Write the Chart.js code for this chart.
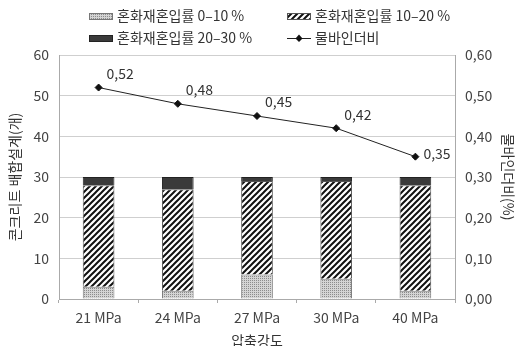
<!DOCTYPE html>
<html>
<head>
<meta charset="utf-8">
<script src="https://cdn.jsdelivr.net/npm/chart.js@4/dist/chart.umd.min.js"></script>
<style>
  body { margin: 0; background: #fff; }
  #wrap { position: relative; width: 519px; height: 346px; }
  .lg { position: absolute; font: 14px "Noto Sans CJK KR", sans-serif; color: #333; white-space: nowrap; line-height: 16px; }
  .lg canvas { vertical-align: middle; margin-right: 4px; position: relative; top: -1px; }
</style>
</head>
<body>
<div id="wrap">
  <canvas id="myChart" width="519" height="346"></canvas>
</div>
<script>
// data
var categories = ['21 MPa', '24 MPa', '27 MPa', '30 MPa', '40 MPa'];
var mix0to10 = [3, 2, 6, 5, 2];
var mix10to20 = [25, 25, 23, 24, 26];
var mix20to30 = [2, 3, 1, 1, 2];
var waterBinder = [0.52, 0.48, 0.45, 0.42, 0.35];

var seriesNames = ['혼화재혼입률 0–10 %', '혼화재혼입률 10–20 %', '혼화재혼입률 20–30 %', '물바인더비'];

// patterns
function dotPattern() {
    var c = document.createElement('canvas');
    c.width = 2; c.height = 2;
    var g = c.getContext('2d');
    g.fillStyle = '#d4d4d4';
    g.fillRect(0, 0, 2, 2);
    g.fillStyle = '#8c8c8c';
    g.fillRect(0, 0, 1, 1);
    return g.createPattern(c, 'repeat');
}
function hatchPattern() {
    var s = 6;
    var c = document.createElement('canvas');
    c.width = s; c.height = s;
    var g = c.getContext('2d');
    g.fillStyle = '#fff';
    g.fillRect(0, 0, s, s);
    g.strokeStyle = '#111';
    g.lineWidth = 2;
    g.beginPath();
    g.moveTo(-1, s + 1); g.lineTo(s + 1, -1);
    g.moveTo(-1, 1); g.lineTo(1, -1);
    g.moveTo(s - 1, s + 1); g.lineTo(s + 1, s - 1);
    g.stroke();
    return g.createPattern(c, 'repeat');
}
var dots = dotPattern();
var hatch = hatchPattern();
var darkFill = '#3a3a3a';

// labels on line points
const pointLabels = {
    id: 'pointLabels',
    afterDatasetsDraw(chart) {
        var ctx = chart.ctx;
        var meta = chart.getDatasetMeta(3);
        ctx.save();
        ctx.font = '14px "Noto Sans CJK KR", sans-serif';
        ctx.fillStyle = '#333';
        ctx.textBaseline = 'middle';
        meta.data.forEach(function (p, i) {
            var txt = waterBinder[i].toFixed(2).replace('.', ',');
            if (i == waterBinder.length - 1) {
                ctx.fillText(txt, p.x + 8, p.y - 3);
            } else {
                ctx.fillText(txt, p.x + 8, p.y - 14);
            }
        });
        ctx.restore();
    }
};

const tickFont = { family: '"Noto Sans CJK KR", sans-serif', size: 14 };

const config = {
    data: {
        labels: categories,
        datasets: [
            { type: 'bar', label: seriesNames[0], data: mix0to10, backgroundColor: dots, borderColor: '#777', borderWidth: 1, yAxisID: 'y', order: 2 },
            { type: 'bar', label: seriesNames[1], data: mix10to20, backgroundColor: hatch, borderColor: '#555', borderWidth: 1, yAxisID: 'y', order: 2 },
            { type: 'bar', label: seriesNames[2], data: mix20to30, backgroundColor: darkFill, borderColor: '#222', borderWidth: 1, yAxisID: 'y', order: 2 },
            { type: 'line', label: seriesNames[3], data: waterBinder, borderColor: '#222', borderWidth: 1, pointStyle: 'rectRot', pointRadius: 3.5, pointBackgroundColor: '#111', pointBorderColor: '#111', yAxisID: 'y2', order: 1 }
        ]
    },
    options: {
        responsive: false,
        animation: false,
        layout: { padding: { top: 55, left: 0, right: 0, bottom: 0 } },
        datasets: { bar: { barPercentage: 0.4, categoryPercentage: 1 } },
        plugins: {
            legend: { display: false },
            tooltip: { enabled: false }
        },
        scales: {
            x: {
                stacked: true,
                grid: { display: true, drawOnChartArea: false, offset: true, color: '#aaa', tickLength: 4 },
                border: { color: '#aaa' },
                ticks: { font: tickFont, color: '#444', padding: 6 },
                title: { display: true, text: '압축강도', font: tickFont, color: '#333', padding: { top: 0, bottom: -3 } },
                afterFit: function (s) { s.height = 47; }
            },
            y: {
                stacked: true,
                position: 'left',
                min: 0, max: 60,
                ticks: { stepSize: 10, font: tickFont, color: '#444', padding: 10 },
                grid: { color: '#cfcfcf', drawTicks: false },
                border: { color: '#aaa' },
                title: { display: true, text: '콘크리트 배합설계(개)', font: tickFont, color: '#333', padding: { top: 6, bottom: 0 } },
                afterFit: function (s) { s.width = 59; }
            },
            y2: {
                position: 'right',
                min: 0, max: 0.6,
                ticks: {
                    stepSize: 0.1, font: tickFont, color: '#444', padding: 10,
                    callback: function (v) { return v.toFixed(2).replace('.', ','); }
                },
                grid: { drawOnChartArea: false, drawTicks: false },
                border: { color: '#aaa' },
                title: { display: true, text: '물바인더비(%)', font: tickFont, color: '#333', padding: { top: 2, bottom: 0 } },
                afterFit: function (s) { s.width = 64; }
            }
        }
    },
    plugins: [pointLabels]
};

myChart = new Chart(document.getElementById('myChart'), config);

// legend (html, two columns)
function swatch(kind) {
    var c = document.createElement('canvas');
    c.width = 24; c.height = 8;
    var g = c.getContext('2d');
    if (kind == 3) {
        g.strokeStyle = '#222'; g.lineWidth = 1;
        g.beginPath(); g.moveTo(0, 4.5); g.lineTo(24, 4.5); g.stroke();
        g.fillStyle = '#111';
        g.beginPath(); g.moveTo(12, 0.5); g.lineTo(15.5, 4.5); g.lineTo(12, 8); g.lineTo(8.5, 4.5); g.closePath(); g.fill();
    } else {
        g.fillStyle = [dots, hatch, darkFill][kind];
        g.fillRect(0, 1, 24, 7);
        g.strokeStyle = ['#777', '#555', '#222'][kind];
        g.strokeRect(0.5, 1.5, 23, 6);
    }
    return c;
}
var legendPos = [[89, 7], [287, 7], [89, 29], [287, 29]];
var wrap = document.getElementById('wrap');
seriesNames.forEach(function (name, i) {
    var d = document.createElement('div');
    d.className = 'lg';
    d.style.left = legendPos[i][0] + 'px';
    d.style.top = legendPos[i][1] + 'px';
    d.appendChild(swatch(i));
    d.appendChild(document.createTextNode(name));
    wrap.appendChild(d);
});
</script>
</body>
</html>
